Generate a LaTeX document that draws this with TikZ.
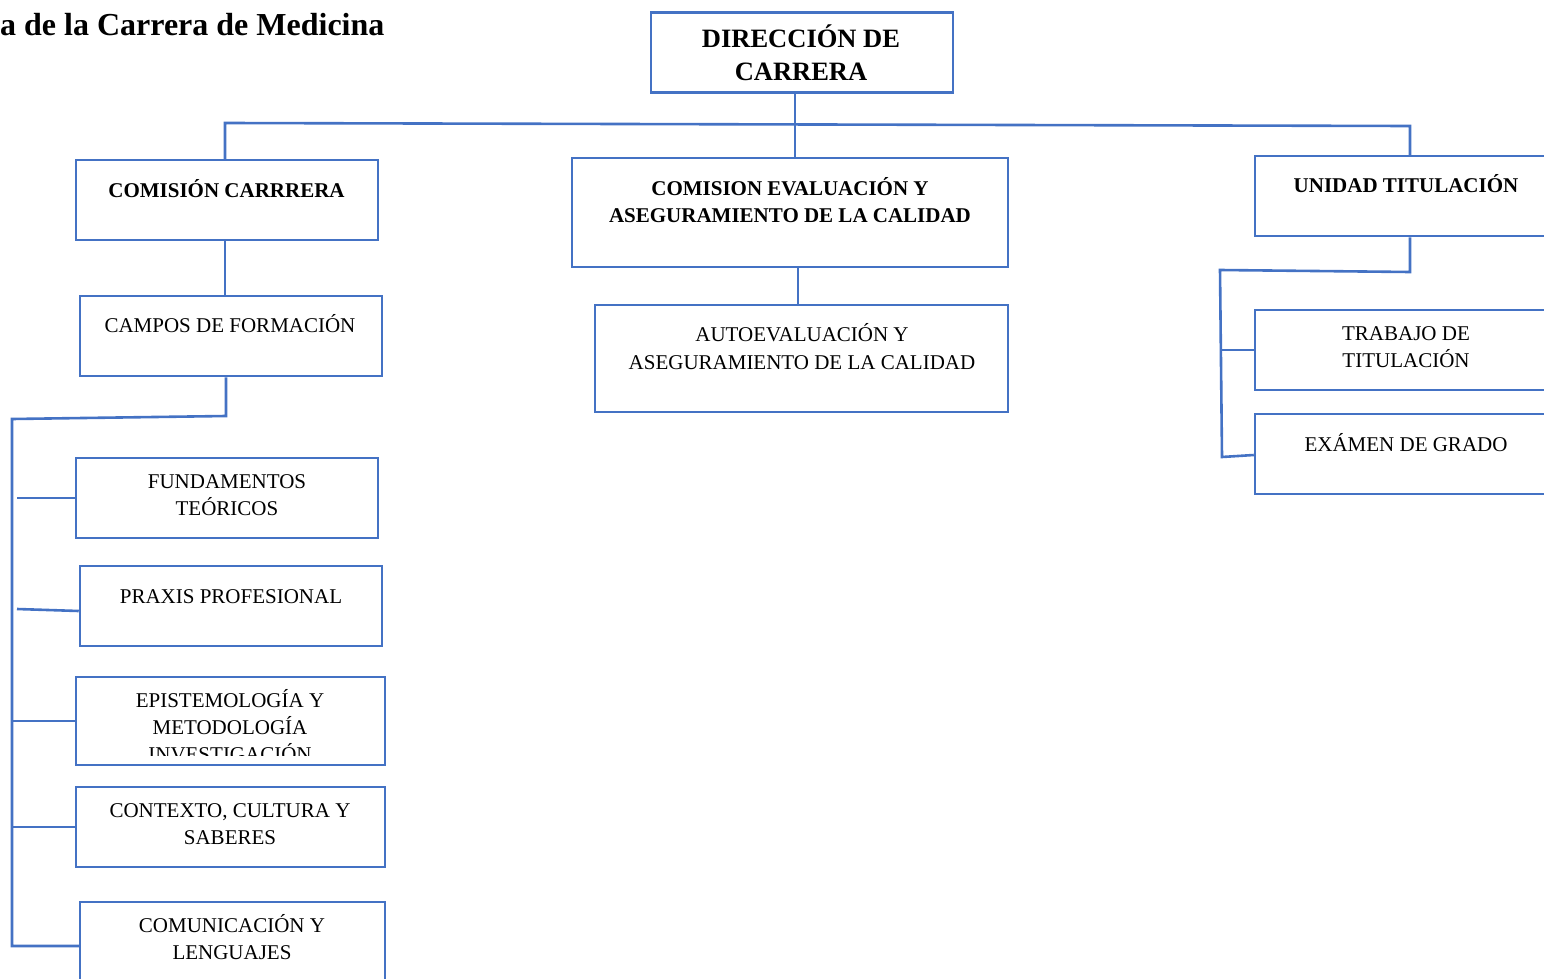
\documentclass[tikz,border=0pt]{standalone}
\usepackage{fontspec}
\setmainfont{Liberation Serif}
\definecolor{orgblue}{HTML}{4472C4}
\tikzset{
  box/.style={draw=orgblue, line width=2.5pt, fill=white, inner sep=0pt, minimum width=302pt, minimum height=80pt},
  link/.style={draw=orgblue, line width=2.6pt, line join=miter},
  txt/.style={font=\fontsize{21}{27}\selectfont, align=center, anchor=base, inner sep=0pt},
  btxt/.style={font=\bfseries\fontsize{21}{27}\selectfont, align=center, anchor=base, inner sep=0pt},
  htxt/.style={font=\bfseries\fontsize{26.5}{33}\selectfont, align=center, anchor=base, inner sep=0pt},
}
\begin{document}
\begin{tikzpicture}[x=1pt,y=-1pt]
\useasboundingbox (0,0) rectangle (1544,979);
\clip (0,0) rectangle (1544,979);

% heading
\node[font=\bfseries\fontsize{32}{36}\selectfont, anchor=base west, inner sep=0pt] (title) at (0,36) {a de la Carrera de Medicina};

% junction points of the connector tree
\coordinate (jl) at (225,123);
\coordinate (jr) at (1410,126);
\coordinate (jm) at (795,124);
\coordinate (jc) at (798,286);
\coordinate (lt) at (226,416);
\coordinate (lc) at (12,419);
\coordinate (lb) at (12,946);
\coordinate (rt) at (1410,272);
\coordinate (rc) at (1220,270);
\coordinate (rb) at (1222,457);

% boxes
\node[box] (dir) at (802,52.5) {};
\node[box] (cc) at (227,200) {};
\node[box] (cf) at (231,336) {};
\node[box] (ft) at (227,498) {};
\node[box] (px) at (231,606) {};
\node[box, minimum width=309pt, minimum height=88pt] (ep) at (230.5,721) {};
\node[box, minimum width=309pt] (cx) at (230.5,827) {};
\node[box, minimum width=305pt] (cl) at (232.5,942) {};
\node[box, minimum width=436pt, minimum height=109pt] (ce) at (790,212.5) {};
\node[box, minimum width=413pt, minimum height=107pt] (ae) at (801.5,358.5) {};
\node[box] (ut) at (1406,196) {};
\node[box] (tt) at (1406,350) {};
\node[box] (ex) at (1406,454) {};

% labels (multi-line labels sit on the baseline of their last line)
\node[htxt] (dir-t) at (801,81) {DIRECCIÓN DE\\CARRERA};
\node[btxt] (cc-t) at (226.5,197) {COMISIÓN CARRRERA};
\node[txt] (cf-t) at (230,332) {CAMPOS DE FORMACIÓN};
\node[txt] (ft-t) at (227,515) {FUNDAMENTOS\\TEÓRICOS};
\node[txt] (px-t) at (231,603) {PRAXIS PROFESIONAL};
\begin{scope}
  \clip (78,679) rectangle (383,755);
  \node[txt] (ep-t) at (230,761) {EPISTEMOLOGÍA Y\\METODOLOGÍA\\INVESTIGACIÓN};
\end{scope}
\node[txt] (cx-t) at (230,844) {CONTEXTO, CULTURA Y\\SABERES};
\node[txt] (cl-t) at (232,959) {COMUNICACIÓN Y\\LENGUAJES};
\node[btxt] (ce-t) at (790,222) {COMISION EVALUACIÓN Y\\ASEGURAMIENTO DE LA CALIDAD};
\node[txt, font=\fontsize{21}{28}\selectfont] (ae-t) at (802,369) {AUTOEVALUACIÓN Y\\ASEGURAMIENTO DE LA CALIDAD};
\node[btxt] (ut-t) at (1406,192) {UNIDAD TITULACIÓN};
\node[txt] (tt-t) at (1406,367) {TRABAJO DE\\TITULACIÓN};
\node[txt] (ex-t) at (1406,451) {EXÁMEN DE GRADO};

% connectors
\draw[link] (jm |- dir.south) -- (jm) -- (jm |- ce.north);
\draw[link] (jl |- cc.north) -- (jl) -- (jr) -- (jr |- ut.north);
\draw[link] (cc.south -| jl) -- (cf.north -| jl);
\draw[link] (jc |- ce.south) -- (jc |- ae.north);
\draw[link] (lt |- cf.south) -- (lt) -- (lc) -- (lb) -- ([xshift=2pt]cl.west |- lb);
\draw[link] ([xshift=5pt]lc |- ft.west) -- (ft.west);
\draw[link] ([xshift=5pt,yshift=-3pt]lc |- px.west) -- ([yshift=-5pt]px.west);
\draw[link] (lc |- ep.west) -- (ep.west);
\draw[link] (lc |- cx.west) -- (cx.west);
\draw[link] (rt |- ut.south) -- (rt) -- (rc) -- (rb) -- ([yshift=-1pt]ex.west);
\draw[link] (rc |- tt.west) -- (tt.west);
\end{tikzpicture}
\end{document}
